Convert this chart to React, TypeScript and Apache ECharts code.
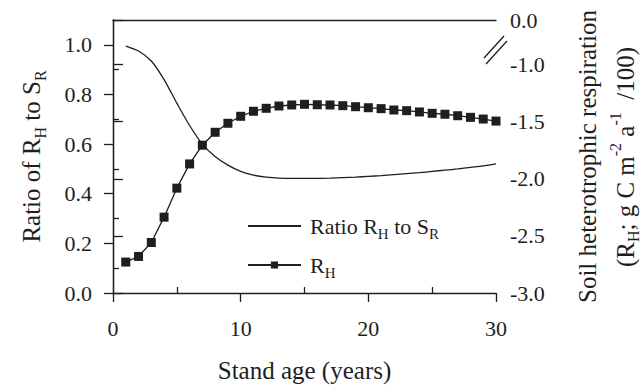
import React, { useEffect, useRef } from "react";
import * as echarts from "echarts";

const years = [1, 2, 3, 4, 5, 6, 7, 8, 9, 10, 11, 12, 13, 14, 15, 16, 17, 18, 19, 20, 21, 22, 23, 24, 25, 26, 27, 28, 29, 30];
const ratioValues = [0.995, 0.975, 0.935, 0.86, 0.765, 0.675, 0.6, 0.55, 0.515, 0.49, 0.475, 0.467, 0.463, 0.462, 0.462, 0.462, 0.463, 0.465, 0.467, 0.47, 0.473, 0.477, 0.481, 0.485, 0.49, 0.495, 0.5, 0.506, 0.512, 0.52];
const rhValues = [-2.729, -2.68, -2.558, -2.336, -2.082, -1.87, -1.706, -1.593, -1.514, -1.453, -1.409, -1.383, -1.363, -1.354, -1.348, -1.352, -1.354, -1.36, -1.369, -1.378, -1.386, -1.398, -1.404, -1.415, -1.427, -1.435, -1.448, -1.462, -1.477, -1.495];
const xTicks = [0, 10, 20, 30];
const xMinorTicks = [5, 15, 25];
const leftTicks = [0, 0.2, 0.4, 0.6, 0.8, 1.0];
const leftMinorTicks = [0.1, 0.3, 0.5, 0.7, 0.9];
const rightTicks = [-3, -2.5, -2, -1.5, -1];
const rightTop = -0.61;

const FONT = "'Liberation Serif', 'Times New Roman', 'DejaVu Serif', serif";
const INK = "#1e1e1e";

const subStyle = { fontFamily: FONT, fontSize: 15, color: INK, verticalAlign: "bottom", lineHeight: 15, padding: [0, 0, -4, 0] };
const supStyle = { fontFamily: FONT, fontSize: 15, color: INK, verticalAlign: "top", lineHeight: 15, padding: [-5, 0, 0, 0] };

const rightTitle1 = "{a|Soil heterotrophic respiration}";
const rightTitle2 = "{a|(R}{sub|H}{a|; g C m}{sup|-2}{a| a}{sup|-1}{a|  /100)}";

export default function App() {
  const ref = useRef<HTMLDivElement>(null);
  useEffect(() => {
    if (!ref.current) return;
    const chart = echarts.init(ref.current, null, { renderer: "svg" });
    const axisLine = { show: true, lineStyle: { color: INK, width: 1.3 } };
    const label = { fontFamily: FONT, fontSize: 22, color: INK };
    const tRich = {
      a: { fontFamily: FONT, fontSize: 25, color: INK },
      sub: { ...subStyle, fontSize: 16 },
      sup: { ...supStyle, fontSize: 16 },
    };
    chart.setOption({
      animation: false,
      backgroundColor: "#ffffff",
      textStyle: { fontFamily: FONT },
      grid: { left: 113, right: 146, top: 20, bottom: 92, outerBoundsMode: "none", containLabel: false },
      legend: {
        orient: "vertical",
        left: 247,
        top: 215,
        padding: 0,
        itemWidth: 53,
        itemHeight: 9,
        itemGap: 13,
        data: [
          { name: "ratio", itemStyle: { color: "transparent", borderColor: "transparent", borderWidth: 0 } },
          { name: "rh" },
        ],
        formatter: (n: string) => (n === "ratio" ? "Ratio R{sub|H} to S{sub|R}" : "R{sub|H}"),
        textStyle: { fontFamily: FONT, fontSize: 22, color: INK, padding: [0, 0, 0, 4], rich: { sub: subStyle } },
      },
      xAxis: [
        {
          type: "value", min: 0, max: 30, interval: 10, position: "bottom",
          name: "Stand age (years)", nameLocation: "middle", nameGap: 65,
          nameTextStyle: { fontFamily: FONT, fontSize: 25, color: INK },
          axisLine, splitLine: { show: false },
          axisTick: { show: true, inside: false, length: 9, lineStyle: { color: INK, width: 1.3 }, customValues: xTicks },
          axisLabel: { ...label, margin: 24, customValues: xTicks },
        },
        {
          type: "value", min: 0, max: 30, position: "bottom",
          axisLine: { show: false }, splitLine: { show: false },
          axisTick: { show: true, inside: true, length: 6, lineStyle: { color: INK, width: 1.3 }, customValues: xMinorTicks },
          axisLabel: { show: false, customValues: xMinorTicks },
        },
        {
          type: "value", min: 0, max: 30, position: "top",
          axisLine, splitLine: { show: false }, axisTick: { show: false }, axisLabel: { show: false },
        },
      ],
      yAxis: [
        {
          type: "value", min: 0, max: 1.1, position: "left",
          name: "{a|Ratio of R}{sub|H}{a| to S}{sub|R}", nameLocation: "middle", nameRotate: 90, nameGap: 69,
          nameTextStyle: { fontFamily: FONT, fontSize: 25, color: INK, rich: tRich },
          axisLine, splitLine: { show: false },
          axisTick: { show: true, inside: false, length: 9, lineStyle: { color: INK, width: 1.3 }, customValues: leftTicks },
          axisLabel: { ...label, margin: 21, customValues: leftTicks, formatter: (v: number) => v.toFixed(1) },
        },
        {
          type: "value", min: 0, max: 1.1, position: "left",
          axisLine: { show: false }, splitLine: { show: false },
          axisTick: { show: true, inside: true, length: 6, lineStyle: { color: INK, width: 1.3 }, customValues: leftMinorTicks },
          axisLabel: { show: false, customValues: leftMinorTicks },
        },
        {
          type: "value", min: -3, max: rightTop, position: "right",
          name: rightTitle1,
          nameLocation: "middle", nameRotate: 90, nameGap: 79,
          nameTextStyle: { fontFamily: FONT, fontSize: 25, color: INK, rich: tRich },
          axisLine, splitLine: { show: false },
          axisTick: { show: true, inside: false, length: 10, lineStyle: { color: INK, width: 1.3 }, customValues: [...rightTicks, rightTop] },
          axisLabel: {
            ...label, margin: 14, customValues: [...rightTicks, rightTop],
            formatter: (v: number) => (v > -0.9 ? "0.0" : v.toFixed(1)),
          },
        },
      ],
      graphic: [
        { type: "line", shape: { x1: 484, y1: 58, x2: 504, y2: 36 }, style: { stroke: INK, lineWidth: 1.3 } },
        { type: "line", shape: { x1: 486, y1: 64, x2: 507, y2: 41 }, style: { stroke: INK, lineWidth: 1.3 } },
        {
          type: "text", x: 625, y: 157, rotation: Math.PI / 2,
          style: { text: rightTitle2, fontFamily: FONT, fontSize: 25, fill: INK, align: "center", verticalAlign: "middle", rich: tRich },
        },
      ],
      series: [
        {
          name: "ratio", type: "line", xAxisIndex: 0, yAxisIndex: 0, smooth: 0.3,
          symbol: "none", lineStyle: { color: INK, width: 1.3 }, itemStyle: { color: INK },
          data: years.map((y, i) => [y, ratioValues[i]]),
        },
        {
          name: "rh", type: "line", xAxisIndex: 0, yAxisIndex: 2,
          symbol: "rect", symbolSize: 9, showAllSymbol: true,
          lineStyle: { color: INK, width: 1.3 }, itemStyle: { color: INK },
          data: years.map((y, i) => [y, rhValues[i]]),
        },
      ],
    });
    return () => chart.dispose();
  }, []);
  return <div ref={ref} style={{ position: "absolute", left: 0, top: 0, width: 642, height: 385 }} />;
}
